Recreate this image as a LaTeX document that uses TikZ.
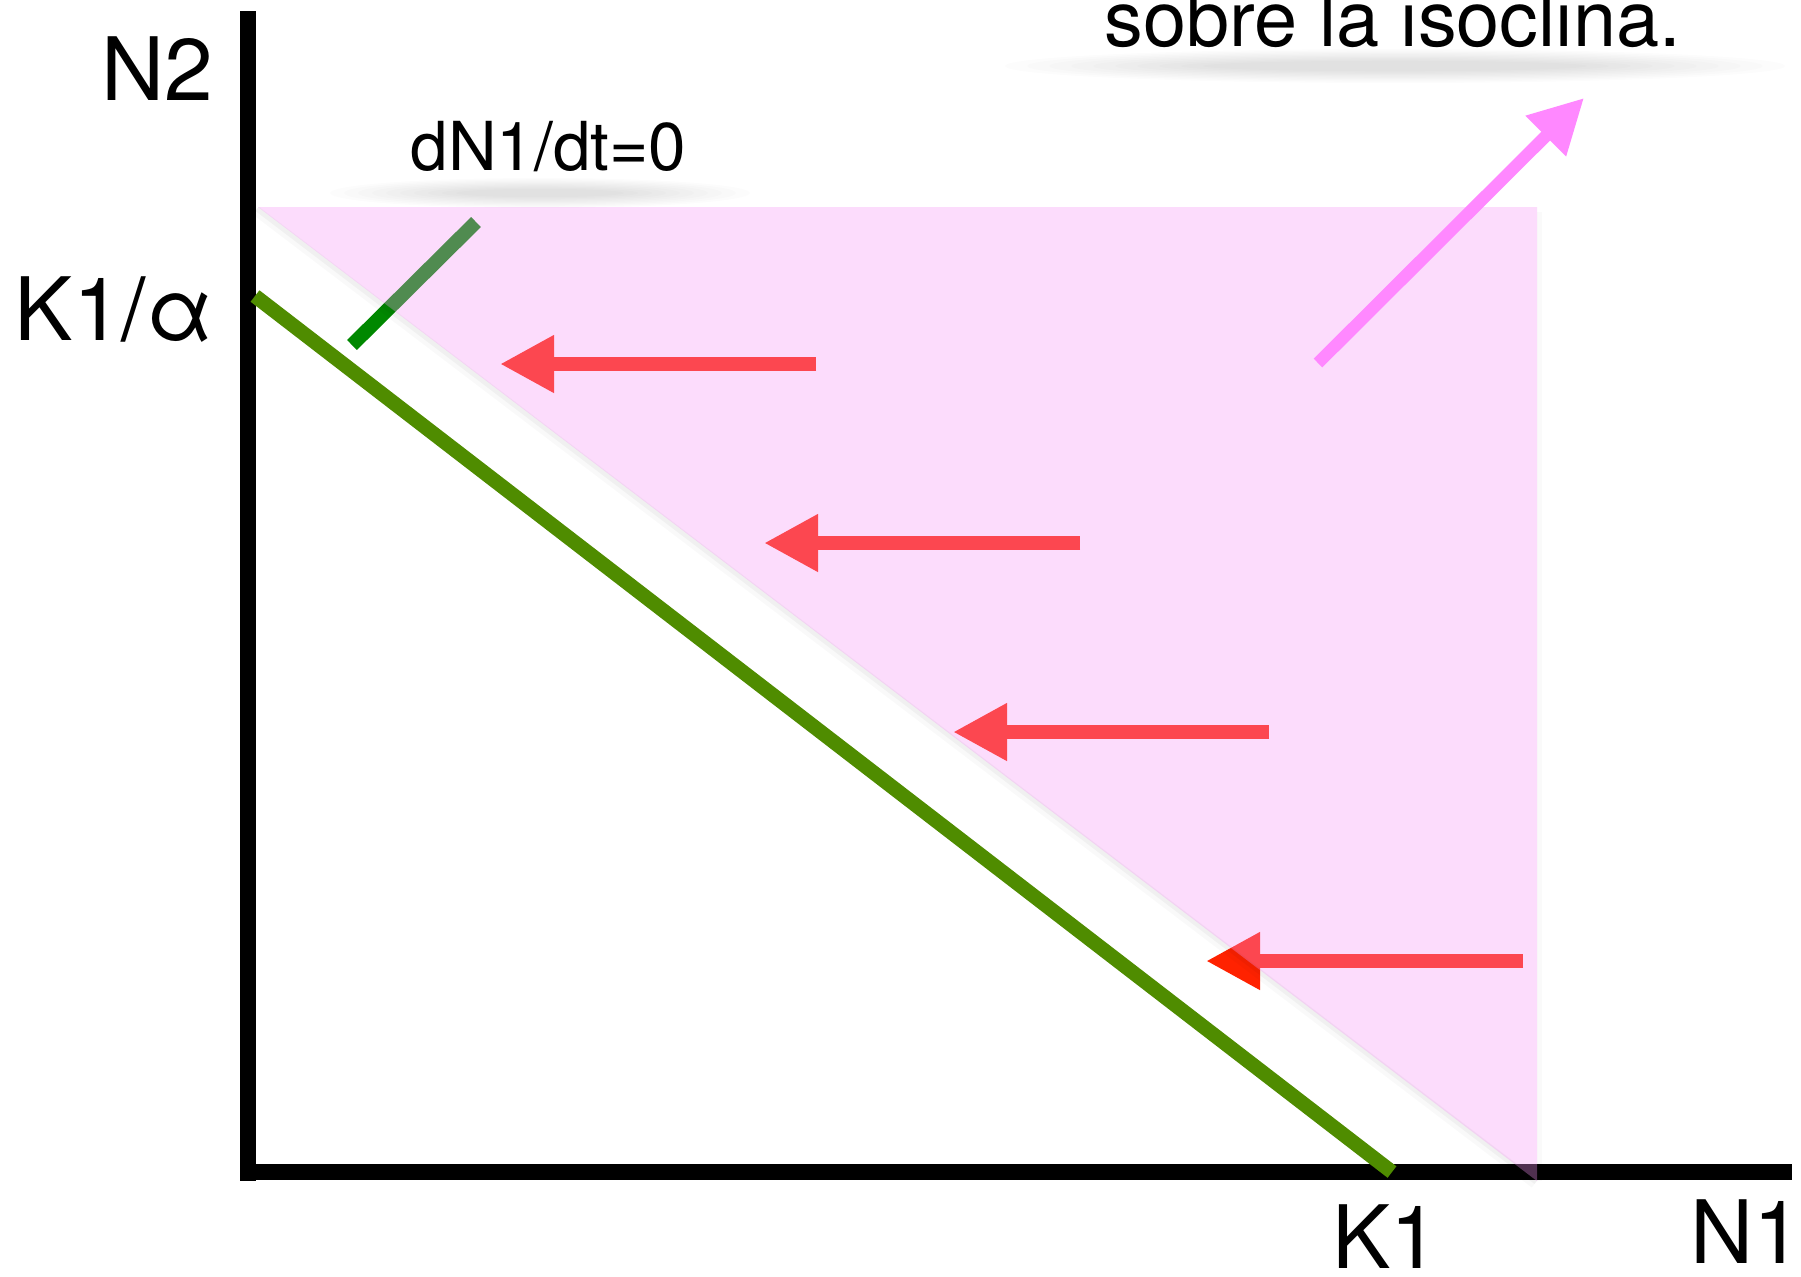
\documentclass[tikz,border=0pt]{standalone}
\usepackage{fontspec}
\setmainfont{TeX Gyre Heros}
\usetikzlibrary{arrows.meta}
\definecolor{redarrow}{RGB}{255,34,0}
\definecolor{isogreen}{RGB}{79,140,0}
\definecolor{shortgreen}{RGB}{0,136,0}
\definecolor{pinkveil}{RGB}{246,148,246}
\definecolor{magarrow}{RGB}{255,136,255}
\begin{document}
\begin{tikzpicture}[x=0.4pt,y=-0.4pt,
  axisline/.style={line width=6.6pt, black},
  redarr/.style={line width=5.4pt, redarrow, -{Triangle[length=21.6pt,width=21.6pt]}},
  magarr/.style={line width=4.9pt, magarrow, -{Triangle[length=21.6pt,width=21.6pt]}},
  biglbl/.style={font=\fontsize{35}{40}\selectfont, inner sep=0pt},
  midlbl/.style={font=\fontsize{27}{30}\selectfont, inner sep=0pt},
  toplbl/.style={font=\fontsize{31}{34}\selectfont, inner sep=0pt},
  softshadow/.style={fill=black, opacity=0.012}]
\useasboundingbox (0,0) rectangle (1801,1276);
\clip (0,0) rectangle (1801,1276);
\fill[white] (0,0) rectangle (1801,1276);

% axes
\coordinate (ytop) at (248,11);
\coordinate (ybot) at (248,1181);
\coordinate (xleft) at (240,1172);
\coordinate (xright) at (1792,1172);
\draw[axisline] (ytop) -- (ybot);
\draw[axisline] (xleft) -- (xright);

% isocline
\coordinate (isoA) at (255,296);
\coordinate (isoB) at (1392,1172);
\draw[line width=5.8pt, isogreen] (isoA) -- (isoB);
\coordinate (tickA) at (352,345);
\coordinate (tickB) at (476,222);
\draw[line width=5.6pt, shortgreen] (tickA) -- (tickB);

% red arrows
\coordinate (r1s) at (816,364); \coordinate (r1e) at (500,364);
\coordinate (r2s) at (1080,543); \coordinate (r2e) at (764,543);
\coordinate (r3s) at (1269,732); \coordinate (r3e) at (953,732);
\coordinate (r4s) at (1523,961); \coordinate (r4e) at (1206,961);
\draw[redarr] (r1s) -- (r1e);
\draw[redarr] (r2s) -- (r2e);
\draw[redarr] (r3s) -- (r3e);
\draw[redarr] (r4s) -- (r4e);

% soft shadow along diagonal edge
\draw[black, opacity=0.025, line width=4pt] (255.8,210.5) -- (1534.8,1183.5);
\draw[black, opacity=0.035, line width=2pt] (257,209) -- (1536,1182);

% pink veil
\fill[pinkveil, opacity=0.325] (258,207) -- (1537,207) -- (1537,1181) -- cycle;
\draw[black, opacity=0.02, line width=2pt] (1539,212) -- (1539,1181);

% magenta arrow
\coordinate (ms) at (1318,363);
\coordinate (me) at (1584,98);
\draw[magarr] (ms) -- (me);

% text shadows
\foreach \k in {0,...,9}{
  \fill[softshadow] (540,193) ellipse ({210-14*\k} and {15-1.2*\k});
}
\foreach \k in {0,...,9}{
  \fill[softshadow] (1395,66) ellipse ({390-22*\k} and {17-1.3*\k});
}

% labels
\node[biglbl, anchor=base east] (n2) at (214,100) {N2};
\node[biglbl, anchor=base east] (k1a) at (214,340) {K1/α};
\node[biglbl, anchor=base west] (k1) at (1332,1268) {K1};
\node[biglbl, anchor=base west] (n1) at (1690,1263) {N1};
\node[midlbl, anchor=base west] (dn) at (410,170) {dN1/dt=0};
\node[toplbl, anchor=base west] (sobre) at (1104,46) {sobre la isoclina.};
\end{tikzpicture}
\end{document}
